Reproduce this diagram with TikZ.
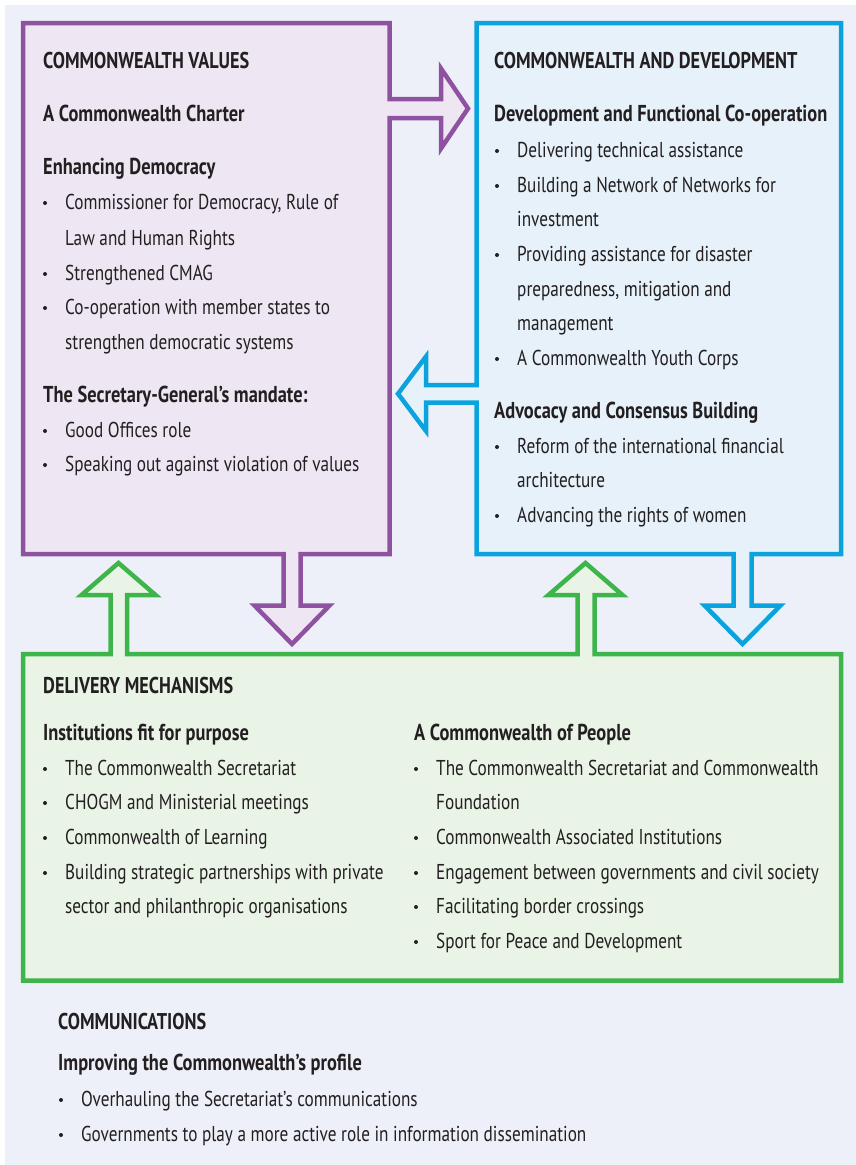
\documentclass[tikz,border=0pt]{standalone}
\usepackage{fontspec}
\setmainfont{PT Sans}[FakeStretch=0.8]
\usepackage{xcolor}

\definecolor{bgpanel}{HTML}{EDF0F8}
\definecolor{ink}{HTML}{231F20}
\definecolor{valline}{HTML}{8E52A1}
\definecolor{valfill}{HTML}{EEE7F3}
\definecolor{devline}{HTML}{0BA3DD}
\definecolor{devfill}{HTML}{E6F1FA}
\definecolor{delline}{HTML}{3DB54A}
\definecolor{delfill}{HTML}{E9F4E6}

\tikzset{
  txt/.style={anchor=base west, inner sep=0pt, text=ink, font=\fontsize{21.5}{26}\selectfont},
  hd/.style={txt, font=\fontsize{23}{27}\selectfont\bfseries},
  title/.style={txt, font=\fontsize{22.8}{27}\selectfont\bfseries},
  outline/.style={line width=4.5pt, line join=miter},
}

\begin{document}
\begin{tikzpicture}[x=1pt, y=-1pt]
  % page and background panel
  \useasboundingbox (0,0) rectangle (856,1165);
  \fill[bgpanel] (5,5) rectangle (856,1165);

  % values box with its arrows to the right and down
  \draw[outline, draw=valline, fill=valfill] (23,23) -- (389.5,23) -- (389.5,99) -- (441,99) -- (441,68.5)
    -- (468,108.5) -- (441,148.5) -- (441,118) -- (389.5,118) -- (389.5,554) -- (300.5,554) -- (300.5,605.5)
    -- (329.5,605.5) -- (292,644) -- (254.5,605.5) -- (283.5,605.5) -- (283.5,554) -- (23,554) -- cycle;

  % development box with its arrows to the left and down
  \draw[outline, draw=devline, fill=devfill] (476.5,23) -- (841,23) -- (841,554) -- (751.5,554) -- (751.5,605.5)
    -- (780.5,605.5) -- (742.5,644) -- (704.5,605.5) -- (733.5,605.5) -- (733.5,554) -- (476.5,554)
    -- (476.5,402.5) -- (426,402.5) -- (426,431) -- (398,393.75) -- (426,356.5) -- (426,385) -- (476.5,385) -- cycle;

  % delivery box with its two arrows up
  \draw[outline, draw=delline, fill=delfill] (23,654) -- (110.5,654) -- (110.5,595) -- (81.5,595) -- (118.5,563)
    -- (155.5,595) -- (127,595) -- (127,654) -- (577.5,654) -- (577.5,595) -- (548.5,595) -- (585.5,563)
    -- (622.5,595) -- (594.5,595) -- (594.5,654) -- (841,654) -- (841,980.5) -- (23,980.5) -- cycle;

  % values text
  \node[title] (valT) at (43,68) {COMMONWEALTH VALUES};
  \node[hd] (valA) at (43,121) {A Commonwealth Charter};
  \node[hd] (valB) at (43,174) {Enhancing Democracy};
  \node[txt] (valB1) at (65,209) {Commissioner for Democracy, Rule of};
  \node[txt] (valB1b) at (65,245) {Law and Human Rights};
  \node[txt] (valB2) at (65,280) {Strengthened CMAG};
  \node[txt] (valB3) at (65,314) {Co-operation with member states to};
  \node[txt] (valB3b) at (65,349) {strengthen democratic systems};
  \node[hd] (valC) at (43,402) {The Secretary-General’s mandate:};
  \node[txt] (valC1) at (65,437) {Good Offices role};
  \node[txt] (valC2) at (65,471) {Speaking out against violation of values};

  % development text
  \node[title] (devT) at (494,68) {COMMONWEALTH AND DEVELOPMENT};
  \node[hd] (devA) at (494,121) {Development and Functional Co-operation};
  \node[txt] (devA1) at (517,157) {Delivering technical assistance};
  \node[txt] (devA2) at (517,192) {Building a Network of Networks for};
  \node[txt] (devA2b) at (517,226) {investment};
  \node[txt] (devA3) at (517,261) {Providing assistance for disaster};
  \node[txt] (devA3b) at (517,296) {preparedness, mitigation and};
  \node[txt] (devA3c) at (517,330) {management};
  \node[txt] (devA4) at (517,365) {A Commonwealth Youth Corps};
  \node[hd] (devB) at (494,418) {Advocacy and Consensus Building};
  \node[txt] (devB1) at (517,453) {Reform of the international financial};
  \node[txt] (devB1b) at (517,487) {architecture};
  \node[txt] (devB2) at (517,522) {Advancing the rights of women};

  % delivery text, two columns
  \node[title] (delT) at (43,693) {DELIVERY MECHANISMS};
  \node[hd] (delA) at (43,740) {Institutions fit for purpose};
  \node[txt] (delA1) at (65,775) {The Commonwealth Secretariat};
  \node[txt] (delA2) at (65,809) {CHOGM and Ministerial meetings};
  \node[txt] (delA3) at (65,844) {Commonwealth of Learning};
  \node[txt] (delA4) at (65,879) {Building strategic partnerships with private};
  \node[txt] (delA4b) at (65,913) {sector and philanthropic organisations};
  \node[hd] (delB) at (414,740) {A Commonwealth of People};
  \node[txt] (delB1) at (436,775) {The Commonwealth Secretariat and Commonwealth};
  \node[txt] (delB1b) at (436,809) {Foundation};
  \node[txt] (delB2) at (436,844) {Commonwealth Associated Institutions};
  \node[txt] (delB3) at (436,879) {Engagement between governments and civil society};
  \node[txt] (delB4) at (436,913) {Facilitating border crossings};
  \node[txt] (delB5) at (436,948) {Sport for Peace and Development};

  % communications text
  \node[title] (comT) at (58,1029) {COMMUNICATIONS};
  \node[hd] (comA) at (58,1070) {Improving the Commonwealth’s profile};
  \node[txt] (comA1) at (81,1106) {Overhauling the Secretariat’s communications};
  \node[txt] (comA2) at (81,1141) {Governments to play a more active role in information dissemination};

  % bullets
  \fill[ink] (valB1.base west) ++(-20,-6) circle (2);
  \fill[ink] (valB2.base west) ++(-20,-6) circle (2);
  \fill[ink] (valB3.base west) ++(-20,-6) circle (2);
  \fill[ink] (valC1.base west) ++(-20,-6) circle (2);
  \fill[ink] (valC2.base west) ++(-20,-6) circle (2);
  \fill[ink] (devA1.base west) ++(-20,-6) circle (2);
  \fill[ink] (devA2.base west) ++(-20,-6) circle (2);
  \fill[ink] (devA3.base west) ++(-20,-6) circle (2);
  \fill[ink] (devA4.base west) ++(-20,-6) circle (2);
  \fill[ink] (devB1.base west) ++(-20,-6) circle (2);
  \fill[ink] (devB2.base west) ++(-20,-6) circle (2);
  \fill[ink] (delA1.base west) ++(-20,-6) circle (2);
  \fill[ink] (delA2.base west) ++(-20,-6) circle (2);
  \fill[ink] (delA3.base west) ++(-20,-6) circle (2);
  \fill[ink] (delA4.base west) ++(-20,-6) circle (2);
  \fill[ink] (delB1.base west) ++(-20,-6) circle (2);
  \fill[ink] (delB2.base west) ++(-20,-6) circle (2);
  \fill[ink] (delB3.base west) ++(-20,-6) circle (2);
  \fill[ink] (delB4.base west) ++(-20,-6) circle (2);
  \fill[ink] (delB5.base west) ++(-20,-6) circle (2);
  \fill[ink] (comA1.base west) ++(-20,-6) circle (2);
  \fill[ink] (comA2.base west) ++(-20,-6) circle (2);
\end{tikzpicture}
\end{document}
